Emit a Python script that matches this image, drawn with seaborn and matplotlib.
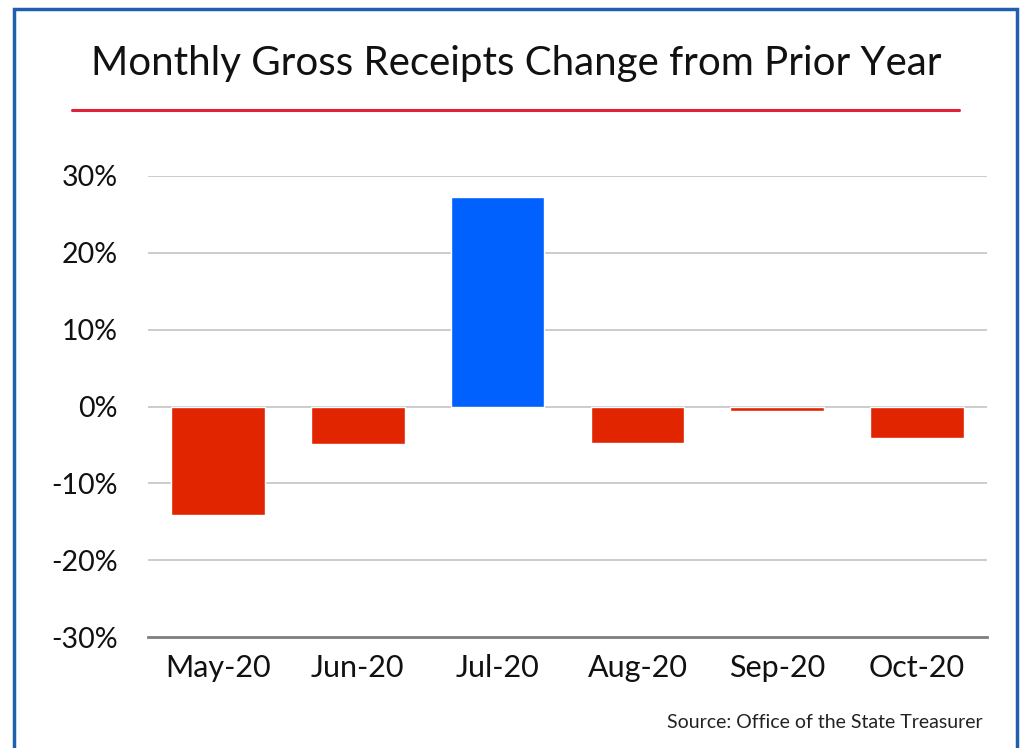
import matplotlib
matplotlib.use("Agg")
import matplotlib.pyplot as plt
import seaborn as sns
import pandas as pd
from matplotlib.patches import Rectangle
from matplotlib.lines import Line2D

# data
months = ["May-20", "Jun-20", "Jul-20", "Aug-20", "Sep-20", "Oct-20"]
change = [-14.1, -4.9, 27.3, -4.7, -0.6, -4.1]
yticks = [-30, -20, -10, 0, 10, 20, 30]

df = pd.DataFrame({"month": months, "change": change})
colors = ["#0061FE" if v > 0 else "#E12500" for v in change]

sns.set_style("white")
plt.rcParams["font.family"] = ["Lato", "DejaVu Sans"]

fig = plt.figure(figsize=(10.21, 7.48), dpi=100)
ax = fig.add_axes([148 / 1021, 1 - 637 / 748, (987 - 148) / 1021, (637 - 176) / 748])

sns.barplot(data=df, x="month", y="change", hue="month", palette=colors,
            width=0.67, legend=False, ax=ax, zorder=3, saturation=1)

ax.set_ylim(-30, 30)
ax.set_xlim(-0.5, 5.5)
ax.set_yticks(yticks)
ax.set_yticklabels([f"{t}%" for t in yticks], fontsize=20.5, color="#111111")
ax.tick_params(axis="x", labelsize=22, length=0, pad=12, labelcolor="#111111")
ax.tick_params(axis="y", length=0, pad=22)
ax.set_xlabel("")
ax.set_ylabel("")
for t in yticks[1:]:
    ax.axhline(t, color="#C8C8C8", lw=1.3, zorder=1)
for s in ["top", "right", "left"]:
    ax.spines[s].set_visible(False)
ax.spines["bottom"].set_color("#7F7F7F")
ax.spines["bottom"].set_linewidth(2)

# title, red rule, frame, source
fig.text(516 / 1021, 1 - 63 / 748, "Monthly Gross Receipts Change from Prior Year",
         ha="center", va="center", fontsize=29, color="#111111")
fig.add_artist(Line2D([72 / 1021, 959 / 1021], [1 - 110 / 748] * 2,
                      color="#E0203A", lw=2.2, transform=fig.transFigure))
fig.add_artist(Rectangle((14 / 1021, -0.05), (1017 - 14) / 1021, 1 - 9 / 748 + 0.05,
                         fill=False, edgecolor="#1F5FAD", lw=2.5,
                         transform=fig.transFigure))
fig.text(983 / 1021, 1 - 722 / 748, "Source: Office of the State Treasurer",
         ha="right", va="center", fontsize=14, color="#222222")

fig.savefig("out.png", dpi=100)
